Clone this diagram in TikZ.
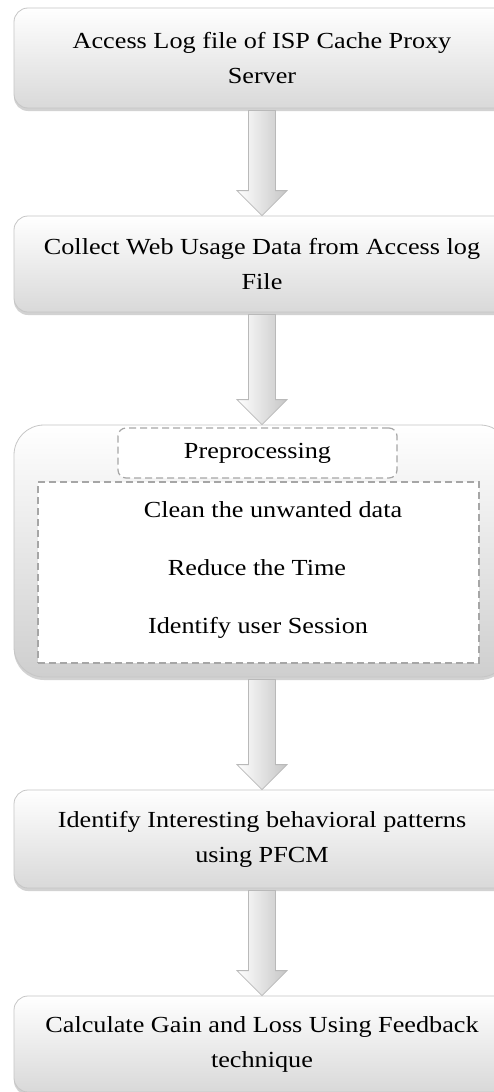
\documentclass[tikz,border=0pt]{standalone}
\usepackage{fontspec}
\setmainfont{Liberation Serif}[FakeStretch=1.14]
\usetikzlibrary{calc,shadows}
\tikzset{
  stepbox/.style={rectangle, rounded corners=14pt, draw=gray!45, line width=0.8pt,
    top color=white, bottom color=gray!30, minimum width=496pt,
    align=center, font=\fontsize{23}{35}\selectfont, inner sep=0pt,
    drop shadow={opacity=0.35, shadow xshift=0pt, shadow yshift=-3pt}},
  bigbox/.style={rectangle, rounded corners=30pt, draw=gray!45, line width=0.8pt,
    top color=white, bottom color=gray!38, minimum width=496pt, minimum height=252pt,
    drop shadow={opacity=0.35, shadow xshift=0pt, shadow yshift=-3pt}},
  dashbox/.style={rectangle, draw=gray!70, dash pattern=on 7pt off 4pt, line width=1.2pt, fill=white, inner sep=0pt},
  itemtext/.style={font=\fontsize{23}{28}\selectfont, inner sep=0pt},
  arr/.style={draw=gray!55, line width=0.8pt, left color=white, right color=gray!45}
}
\newcommand\flowarr[2]{%
  \path[arr] ($(#1.south)+(-13.5pt,-2pt)$) -- ($(#2.north)+(-13.5pt,25pt)$)
    -- ($(#2.north)+(-25pt,25pt)$) -- (#2.north) -- ($(#2.north)+(25pt,25pt)$)
    -- ($(#2.north)+(13.5pt,25pt)$) -- ($(#1.south)+(13.5pt,-2pt)$) -- cycle;}
\begin{document}
\begin{tikzpicture}[x=1pt,y=-1pt]
\clip (0,0) rectangle (494,1092);
\fill[white] (0,0) rectangle (494,1092);
\node[stepbox, minimum height=100pt] (b1) at (262,58) {Access Log file of ISP Cache Proxy\\Server};
\node[stepbox, minimum height=96pt] (b2) at (262,264) {Collect Web Usage Data from Access log\\File};
\node[bigbox] (b3) at (262,551) {};
\node[dashbox, rounded corners=8pt, minimum width=279pt, minimum height=50pt] (t3) at (257.5,453) {};
\node[itemtext] (tt) at (t3.center) {Preprocessing};
\node[dashbox, minimum width=441pt, minimum height=181pt] (d3) at (258.5,572.5) {};
\node[itemtext] (i1) at (273,510) {Clean the unwanted data};
\node[itemtext] (i2) at (257,568) {Reduce the Time};
\node[itemtext] (i3) at (258,628) {Identify user Session};
\node[stepbox, minimum height=98pt] (b4) at (262,839) {Identify Interesting behavioral patterns\\using PFCM};
\node[stepbox, minimum height=96pt] (b5) at (262,1044) {Calculate Gain and Loss Using Feedback\\technique};
\flowarr{b1}{b2}
\flowarr{b2}{b3}
\flowarr{b3}{b4}
\flowarr{b4}{b5}
\end{tikzpicture}
\end{document}
